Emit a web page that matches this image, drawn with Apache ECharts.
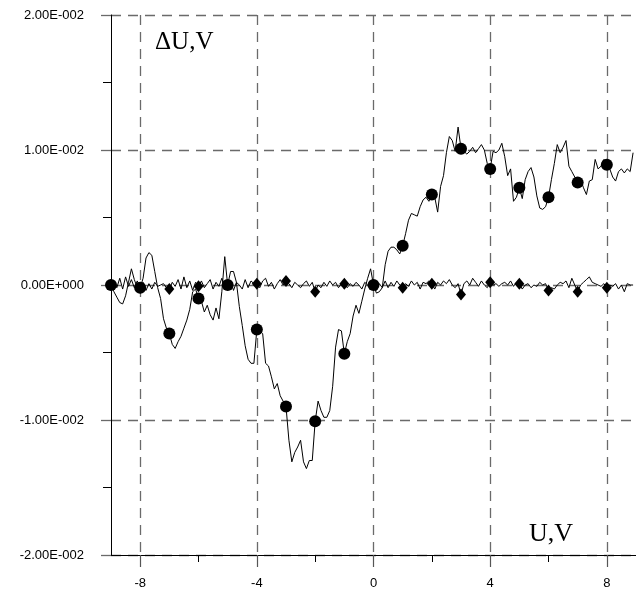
<!DOCTYPE html>
<html><head><meta charset="utf-8">
<script src="https://cdn.jsdelivr.net/npm/echarts@6/dist/echarts.min.js"></script>
<style>html,body{margin:0;padding:0;background:#fff}#c{width:636px;height:599px}</style>
</head><body><div id="c"></div>
<script>
// Curve 1 (with circle markers): [U, dU]
const curve1 = [
[-9.0,0.0000],[-8.9,-0.0005],[-8.8,-0.0009],[-8.7,-0.0013],[-8.6,-0.0014],[-8.5,-0.0008],[-8.4,0.0002],[-8.3,0.0012],[-8.2,0.0004],[-8.1,-0.0002],
[-8.0,-0.0002],[-7.9,0.0005],[-7.8,0.0020],[-7.7,0.0024],[-7.6,0.0022],[-7.5,0.0010],[-7.4,-0.0002],[-7.3,-0.0010],[-7.2,-0.0025],[-7.1,-0.0032],
[-7.0,-0.0036],[-6.9,-0.0044],[-6.8,-0.0047],[-6.7,-0.0042],[-6.6,-0.0038],[-6.5,-0.0032],[-6.4,-0.0026],[-6.3,-0.0018],[-6.2,-0.0005],[-6.1,-0.0003],
[-6.0,-0.0010],[-5.9,-0.0012],[-5.8,-0.0020],[-5.7,-0.0015],[-5.6,-0.0022],[-5.5,-0.0026],[-5.4,-0.0017],[-5.3,-0.0025],[-5.2,-0.0005],[-5.1,0.0021],
[-5.0,0.0000],[-4.9,0.0010],[-4.8,0.0010],[-4.7,0.0002],[-4.6,-0.0016],[-4.5,-0.0030],[-4.4,-0.0045],[-4.3,-0.0055],[-4.2,-0.0058],[-4.1,-0.0058],
[-4.0,-0.0033],[-3.9,-0.0034],[-3.8,-0.0036],[-3.7,-0.0058],[-3.6,-0.0060],[-3.5,-0.0068],[-3.4,-0.0077],[-3.3,-0.0073],[-3.2,-0.0082],[-3.1,-0.0086],
[-3.0,-0.0090],[-2.9,-0.0115],[-2.8,-0.0131],[-2.7,-0.0124],[-2.6,-0.0120],[-2.5,-0.0115],[-2.4,-0.0131],[-2.3,-0.0136],[-2.2,-0.0130],[-2.1,-0.0130],
[-2.0,-0.0101],[-1.9,-0.0086],[-1.8,-0.0093],[-1.7,-0.0098],[-1.6,-0.0098],[-1.5,-0.0093],[-1.4,-0.0075],[-1.3,-0.0046],[-1.2,-0.0033],[-1.1,-0.0034],
[-1.0,-0.0051],[-0.9,-0.0042],[-0.8,-0.0036],[-0.7,-0.0023],[-0.6,-0.0015],[-0.5,-0.0021],[-0.4,-0.0012],[-0.3,-0.0003],[-0.2,0.0005],[-0.1,0.0012],
[0.0,0.0000],[0.1,-0.0006],[0.2,-0.0005],[0.3,-0.0002],[0.4,0.0015],[0.5,0.0025],[0.6,0.0028],[0.7,0.0028],[0.8,0.0026],[0.9,0.0023],
[1.0,0.0029],[1.1,0.0038],[1.2,0.0048],[1.3,0.0053],[1.4,0.0052],[1.5,0.0051],[1.6,0.0058],[1.7,0.0063],[1.8,0.0065],[1.9,0.0062],
[2.0,0.0067],[2.1,0.0065],[2.2,0.0054],[2.3,0.0073],[2.4,0.0081],[2.5,0.0098],[2.6,0.0110],[2.7,0.0107],[2.8,0.0099],[2.9,0.0117],
[3.0,0.0101],[3.1,0.0099],[3.2,0.0097],[3.3,0.0099],[3.4,0.0102],[3.5,0.0098],[3.6,0.0101],[3.7,0.0104],[3.8,0.0100],[3.9,0.0090],
[4.0,0.0086],[4.1,0.0099],[4.2,0.0098],[4.3,0.0100],[4.4,0.0105],[4.5,0.0095],[4.6,0.0081],[4.7,0.0086],[4.8,0.0062],[4.9,0.0065],
[5.0,0.0072],[5.1,0.0064],[5.2,0.0078],[5.3,0.0084],[5.4,0.0087],[5.5,0.0080],[5.6,0.0066],[5.7,0.0057],[5.8,0.0056],[5.9,0.0058],
[6.0,0.0065],[6.1,0.0078],[6.2,0.0090],[6.3,0.0104],[6.4,0.0098],[6.5,0.0102],[6.6,0.0107],[6.7,0.0088],[6.8,0.0084],[6.9,0.0080],
[7.0,0.0076],[7.1,0.0078],[7.2,0.0072],[7.3,0.0067],[7.4,0.0077],[7.5,0.0078],[7.6,0.0093],[7.7,0.0086],[7.8,0.0088],[7.9,0.0093],
[8.0,0.0089],[8.1,0.0086],[8.2,0.0080],[8.3,0.0077],[8.4,0.0084],[8.5,0.0086],[8.6,0.0083],[8.7,0.0086],[8.8,0.0084],[8.9,0.0098]
];
// Curve 2 (with diamond markers): [U, dU]
const curve2 = [
[-9.0,0.0000],[-8.9,0.0003],[-8.8,-0.0002],[-8.7,0.0005],[-8.6,-0.0003],[-8.5,0.0006],[-8.4,-0.0001],[-8.3,0.0004],[-8.2,-0.0002],[-8.1,0.0003],
[-8.0,-0.0002],[-7.9,0.0002],[-7.8,-0.0004],[-7.7,0.0001],[-7.6,-0.0003],[-7.5,0.0002],[-7.4,-0.0001],[-7.3,0.0000],[-7.2,0.0001],[-7.1,-0.0002],
[-7.0,-0.0003],[-6.9,0.0002],[-6.8,-0.0001],[-6.7,0.0004],[-6.6,-0.0003],[-6.5,0.0006],[-6.4,-0.0002],[-6.3,0.0003],[-6.2,-0.0004],[-6.1,0.0002],
[-6.0,-0.0001],[-5.9,0.0003],[-5.8,-0.0002],[-5.7,0.0001],[-5.6,0.0004],[-5.5,-0.0003],[-5.4,0.0002],[-5.3,-0.0001],[-5.2,0.0005],[-5.1,-0.0002],
[-5.0,0.0000],[-4.9,0.0003],[-4.8,-0.0004],[-4.7,0.0002],[-4.6,0.0000],[-4.5,-0.0003],[-4.4,0.0004],[-4.3,-0.0002],[-4.2,0.0003],[-4.1,0.0001],
[-4.0,0.0001],[-3.9,-0.0002],[-3.8,0.0003],[-3.7,0.0005],[-3.6,-0.0001],[-3.5,0.0002],[-3.4,-0.0003],[-3.3,0.0001],[-3.2,0.0004],[-3.1,0.0000],
[-3.0,0.0003],[-2.9,0.0001],[-2.8,-0.0002],[-2.7,0.0002],[-2.6,0.0000],[-2.5,-0.0002],[-2.4,0.0001],[-2.3,0.0003],[-2.2,-0.0001],[-2.1,0.0002],
[-2.0,-0.0005],[-1.9,0.0000],[-1.8,-0.0002],[-1.7,0.0002],[-1.6,-0.0001],[-1.5,0.0003],[-1.4,0.0000],[-1.3,0.0002],[-1.2,-0.0002],[-1.1,0.0001],
[-1.0,0.0001],[-0.9,-0.0002],[-0.8,0.0001],[-0.7,-0.0001],[-0.6,0.0002],[-0.5,0.0000],[-0.4,-0.0003],[-0.3,0.0002],[-0.2,0.0000],[-0.1,0.0001],
[0.0,0.0000],[0.1,-0.0004],[0.2,0.0001],[0.3,-0.0002],[0.4,0.0003],[0.5,-0.0002],[0.6,0.0002],[0.7,-0.0001],[0.8,0.0003],[0.9,0.0000],
[1.0,-0.0002],[1.1,0.0001],[1.2,-0.0001],[1.3,0.0003],[1.4,0.0000],[1.5,0.0002],[1.6,-0.0003],[1.7,0.0002],[1.8,0.0001],[1.9,0.0003],
[2.0,0.0001],[2.1,-0.0003],[2.2,0.0002],[2.3,0.0000],[2.4,0.0003],[2.5,0.0001],[2.6,0.0004],[2.7,0.0000],[2.8,-0.0002],[2.9,0.0001],
[3.0,-0.0007],[3.1,0.0001],[3.2,0.0003],[3.3,0.0000],[3.4,0.0005],[3.5,0.0002],[3.6,-0.0001],[3.7,0.0003],[3.8,0.0000],[3.9,-0.0002],
[4.0,0.0002],[4.1,0.0000],[4.2,0.0001],[4.3,-0.0001],[4.4,0.0001],[4.5,0.0002],[4.6,0.0000],[4.7,0.0003],[4.8,-0.0001],[4.9,0.0002],
[5.0,0.0001],[5.1,-0.0003],[5.2,0.0000],[5.3,0.0001],[5.4,-0.0002],[5.5,0.0000],[5.6,-0.0001],[5.7,0.0002],[5.8,0.0000],[5.9,0.0001],
[6.0,-0.0004],[6.1,-0.0002],[6.2,-0.0003],[6.3,0.0000],[6.4,0.0002],[6.5,0.0001],[6.6,0.0003],[6.7,-0.0002],[6.8,0.0005],[6.9,0.0000],
[7.0,-0.0005],[7.1,0.0000],[7.2,0.0002],[7.3,0.0004],[7.4,0.0006],[7.5,0.0002],[7.6,0.0001],[7.7,0.0000],[7.8,-0.0001],[7.9,0.0001],
[8.0,-0.0002],[8.1,0.0000],[8.2,-0.0001],[8.3,0.0001],[8.4,-0.0003],[8.5,0.0000],[8.6,-0.0005],[8.7,0.0001],[8.8,0.0000],[8.9,0.0000]
];
const circles = [[-9,0.0000],[-8,-0.0002],[-7,-0.0036],[-6,-0.0010],[-5,0.0000],[-4,-0.0033],[-3,-0.0090],[-2,-0.0101],[-1,-0.0051],
  [0,0.0000],[1,0.0029],[2,0.0067],[3,0.0101],[4,0.0086],[5,0.0072],[6,0.0065],[7,0.0076],[8,0.0089]];
const diamonds = [[-9,0.0000],[-8,-0.0002],[-7,-0.0003],[-6,-0.0001],[-5,0.0000],[-4,0.0001],[-3,0.0003],[-2,-0.0005],[-1,0.0001],
  [0,0.0000],[1,-0.0002],[2,0.0001],[3,-0.0007],[4,0.0002],[5,0.0001],[6,-0.0004],[7,-0.0005],[8,-0.0002]];

const xMajor = [-8, -4, 0, 4, 8];
const xMinor = [-6, -2, 2, 6];
const yTickValues = [-0.02, -0.01, 0, 0.01, 0.02];
const yTickLabels = ['-2.00E-002', '-1.00E-002', '0.00E+000', '1.00E-002', '2.00E-002'];
const yTitle = 'ΔU,V';
const xTitle = 'U,V';

const gridColor = '#6a6a6a';
const dash = [10, 7];
const yMin = -0.02, yMax = 0.02;
const gridBox = {left: 111, right: -1, top: 15, bottom: 44, containLabel: false};

function yLabel(v) {
  let best = 0;
  for (let i = 0; i < yTickValues.length; i++) {
    if (Math.abs(yTickValues[i] - v) < Math.abs(yTickValues[best] - v)) best = i;
  }
  return yTickLabels[best];
}

const chart = echarts.init(document.getElementById('c'), null, {renderer: 'canvas'});
chart.setOption({
  animation: false,
  backgroundColor: '#fff',
  grid: [Object.assign({}, gridBox), Object.assign({}, gridBox)],
  xAxis: [{
    gridIndex: 0, type: 'value', min: -9, max: 9, position: 'bottom',
    axisLine: {show: true, onZero: false, lineStyle: {color: '#000', width: 1}},
    axisTick: {show: true, customValues: xMajor, length: 12, lineStyle: {color: '#555', width: 1.2}},
    axisLabel: {show: true, customValues: xMajor, margin: 22, fontFamily: 'Liberation Sans', fontSize: 13, color: '#000',
      formatter: v => String(v)},
    splitLine: {show: true, lineStyle: {color: gridColor, width: 1.3, type: dash}}
  }, {
    // minor ticks of the bottom axis
    gridIndex: 1, type: 'value', min: -9, max: 9, position: 'bottom',
    axisLine: {show: true, onZero: false, lineStyle: {color: '#000', width: 1}},
    axisTick: {show: true, customValues: xMinor, length: 7, lineStyle: {color: '#000', width: 1}},
    axisLabel: {show: false},
    splitLine: {show: false}
  }],
  yAxis: [{
    gridIndex: 0, type: 'value', min: yMin, max: yMax, interval: 0.01,
    axisLine: {show: true, onZero: false, lineStyle: {color: '#000', width: 1}},
    axisTick: {show: true, length: 11, lineStyle: {color: gridColor, width: 1.3, type: dash}},
    minorTick: {show: true, splitNumber: 2, length: 8, lineStyle: {color: '#000', width: 1}},
    axisLabel: {margin: 27, fontFamily: 'Liberation Sans', fontSize: 13, color: '#000', formatter: yLabel},
    splitLine: {show: true, lineStyle: {color: gridColor, width: 1.3, type: dash}}
  }, {
    gridIndex: 1, type: 'value', min: yMin, max: yMax, show: false
  }],
  graphic: [
    {type: 'text', left: 155, top: 30, z: 10, style: {text: yTitle, font: '25px "Liberation Serif"', fill: '#000'}},
    {type: 'text', left: 529, top: 521, z: 10, style: {text: xTitle, font: '26px "Liberation Serif"', fill: '#000'}}
  ],
  series: [
    {type: 'line', data: curve2, showSymbol: false, symbol: 'none', lineStyle: {color: '#000', width: 1}, z: 3},
    {type: 'line', data: curve1, showSymbol: false, symbol: 'none', lineStyle: {color: '#000', width: 1}, z: 3},
    {type: 'scatter', data: diamonds, symbol: 'diamond', symbolSize: [10, 12], itemStyle: {color: '#000', opacity: 1}, z: 4},
    {type: 'scatter', data: circles, symbol: 'circle', symbolSize: 12, itemStyle: {color: '#000', opacity: 1}, z: 5}
  ]
});
</script>
</body></html>
